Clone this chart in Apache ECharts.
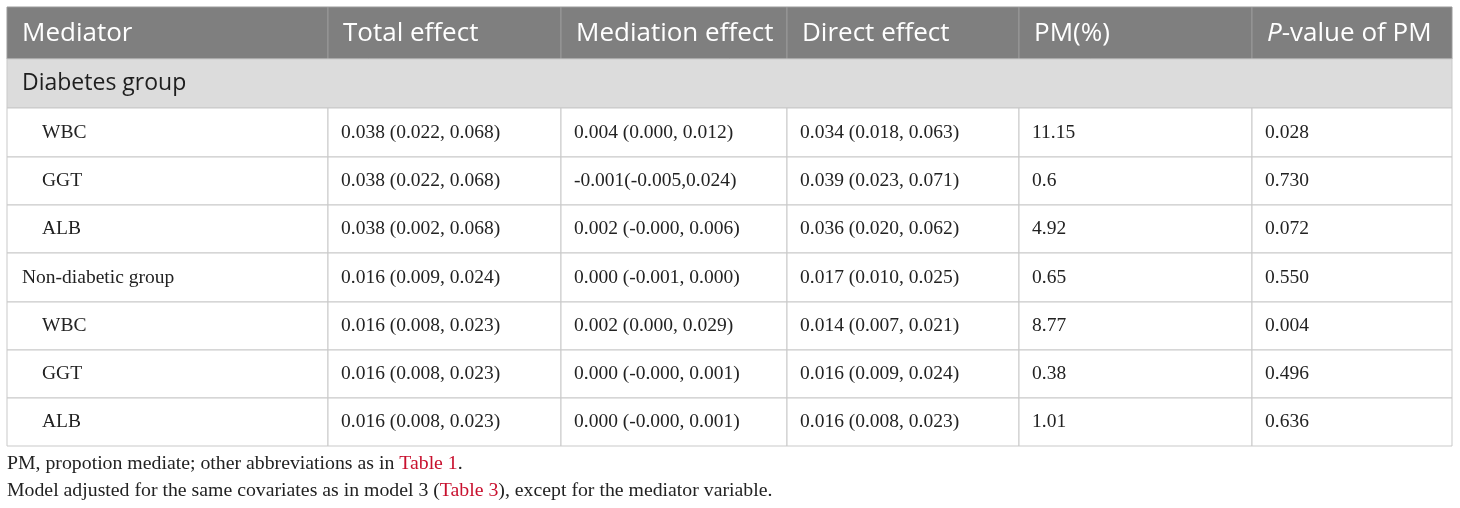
<!DOCTYPE html>
<html>
<head>
<meta charset="utf-8">
<script src="https://cdn.jsdelivr.net/npm/echarts@6/dist/echarts.min.js"></script>
<style>
html,body{margin:0;padding:0;background:#fff;}
#chart{width:1460px;height:508px;}
</style>
</head>
<body>
<div id="chart"></div>
<script>
// ---- data ----
const headers = ['Mediator', 'Total effect', 'Mediation effect', 'Direct effect', 'PM(%)', '{i|P}-value of PM'];
const groupTitle = 'Diabetes group';
const mediators = ['WBC', 'GGT', 'ALB', 'Non-diabetic group', 'WBC', 'GGT', 'ALB'];
const rowKind = ['item', 'item', 'item', 'group', 'item', 'item', 'item'];
const totalEffect = ['0.038 (0.022, 0.068)', '0.038 (0.022, 0.068)', '0.038 (0.002, 0.068)', '0.016 (0.009, 0.024)', '0.016 (0.008, 0.023)', '0.016 (0.008, 0.023)', '0.016 (0.008, 0.023)'];
const mediationEffect = ['0.004 (0.000, 0.012)', '-0.001(-0.005,0.024)', '0.002 (-0.000, 0.006)', '0.000 (-0.001, 0.000)', '0.002 (0.000, 0.029)', '0.000 (-0.000, 0.001)', '0.000 (-0.000, 0.001)'];
const directEffect = ['0.034 (0.018, 0.063)', '0.039 (0.023, 0.071)', '0.036 (0.020, 0.062)', '0.017 (0.010, 0.025)', '0.014 (0.007, 0.021)', '0.016 (0.009, 0.024)', '0.016 (0.008, 0.023)'];
const pmPercent = ['11.15', '0.6', '4.92', '0.65', '8.77', '0.38', '1.01'];
const pValuePM = ['0.028', '0.730', '0.072', '0.550', '0.004', '0.496', '0.636'];
const footnotes = [
  'PM, propotion mediate; other abbreviations as in {r|Table 1}.',
  'Model adjusted for the same covariates as in model 3 ({r|Table 3}), except for the mediator variable.'
];

// ---- layout (axis coordinates) ----
const colEdges = [7, 328, 561, 787, 1019, 1252, 1452];
const rowEdges = [7, 59, 108, 157, 205, 253, 302, 350, 398, 446];

const bodyCols = [mediators, totalEffect, mediationEffect, directEffect, pmPercent, pValuePM];

// build cells: [row, col, span, kind, text]
const cells = [];
headers.forEach((h, c) => cells.push([0, c, 1, 'header', h]));
cells.push([1, 0, 6, 'band', groupTitle]);
mediators.forEach((m, r) => {
  bodyCols.forEach((col, c) => {
    let kind = 'body';
    if (c === 0) kind = rowKind[r] === 'group' ? 'bodyGroupLabel' : 'bodyItemLabel';
    cells.push([r + 2, c, 1, kind, col[r]]);
  });
});

const chart = echarts.init(document.getElementById('chart'), null, {renderer: 'canvas'});

const SERIF = '"Liberation Serif", serif';
const SANS = '"Open Sans", sans-serif';

function renderItem(params, api) {
  const r = api.value(0), c = api.value(1), span = api.value(2);
  const d = cells[params.dataIndex];
  const kind = d[3], text = d[4];
  const p0 = api.coord([colEdges[c], rowEdges[r]]);
  const p1 = api.coord([colEdges[c + span], rowEdges[r + 1]]);
  const w = p1[0] - p0[0], h = p1[1] - p0[1];
  let fill = '#ffffff', stroke = '#c9c9c9';
  let font = {fontFamily: SERIF, fontSize: 19.5, fill: '#222222'};
  let pad = 13;
  let dy = 0;
  if (kind === 'header') {
    fill = '#7f7f7f'; stroke = '#9a9a9a';
    font = {fontFamily: SANS, fontSize: 26, fill: '#ffffff'};
    pad = 15; dy = 1;
  } else if (kind === 'band') {
    fill = '#dcdcdc'; stroke = '#c9c9c9';
    font = {fontFamily: SANS, fontSize: 23, fill: '#1e1e1e'};
    pad = 15;
  } else if (kind === 'bodyItemLabel') {
    pad = 35;
  } else if (kind === 'bodyGroupLabel') {
    pad = 15;
  }
  return {
    type: 'group',
    children: [
      {type: 'rect', shape: {x: p0[0], y: p0[1], width: w, height: h},
       style: {fill: fill, stroke: stroke, lineWidth: 1}},
      {type: 'text', x: p0[0] + pad, y: p0[1] + h / 2 + dy,
       style: Object.assign({
         text: text, verticalAlign: 'middle', align: 'left',
         rich: {i: {fontStyle: 'italic', fontFamily: font.fontFamily, fontSize: font.fontSize, fill: font.fill}}
       }, font)}
    ]
  };
}

chart.setOption({
  animation: false,
  grid: {left: 0, right: 0, top: 0, bottom: 0},
  xAxis: {type: 'value', min: 0, max: 1460, show: false},
  yAxis: {type: 'value', min: 0, max: 508, inverse: true, show: false},
  series: [{
    type: 'custom',
    renderItem: renderItem,
    data: cells.map(d => [d[0], d[1], d[2]]),
    encode: {x: 1, y: 0}
  }],
  graphic: footnotes.map((t, i) => ({
    type: 'text',
    left: 7,
    top: 454 + i * 27,
    style: {
      text: t,
      fontFamily: SERIF,
      fontSize: 19.8,
      fill: '#222222',
      rich: {r: {fill: '#c8102e', fontFamily: SERIF, fontSize: 19.8}}
    }
  }))
});
</script>
</body>
</html>
